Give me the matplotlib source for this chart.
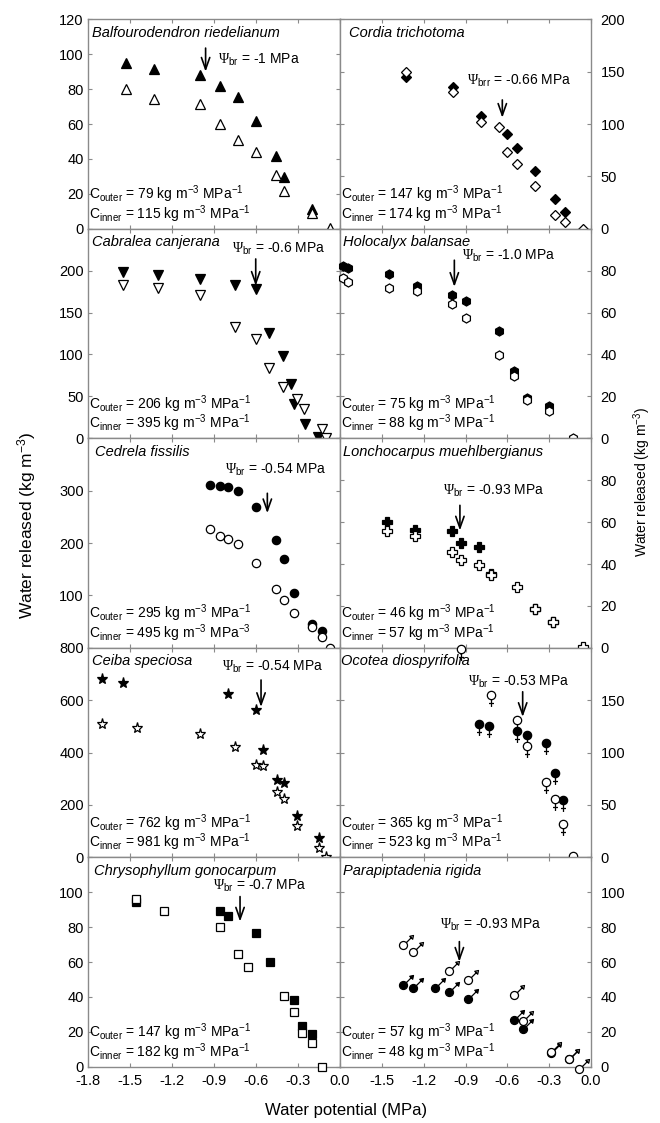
import numpy as np
import matplotlib
matplotlib.use("Agg")
import matplotlib.pyplot as plt
from matplotlib.path import Path

plt.rcParams['font.family'] = ['Liberation Sans', 'DejaVu Sans']
plt.rcParams['mathtext.fontset'] = 'custom'
plt.rcParams['mathtext.rm'] = 'Liberation Sans'
plt.rcParams['mathtext.it'] = 'Liberation Sans:italic'
plt.rcParams['mathtext.bf'] = 'Liberation Sans:bold'
plt.rcParams['mathtext.tt'] = 'Liberation Serif'
plt.rcParams['axes.unicode_minus'] = False

# ---------------- data ----------------
balf_psi_outer = [-1.53, -1.33, -1.00, -0.86, -0.73, -0.60, -0.46, -0.40, -0.20]
balf_w_outer = [95, 91.5, 88, 81.7, 75.6, 61.6, 41.7, 29.6, 11.6]
balf_psi_inner = [-1.53, -1.33, -1.00, -0.86, -0.73, -0.60, -0.46, -0.40, -0.20, -0.07]
balf_w_inner = [80.2, 74.6, 71.4, 59.9, 51.1, 44, 30.6, 21.6, 9.2, 0.5]

cord_psi_outer = [-1.33, -0.99, -0.79, -0.60, -0.53, -0.40, -0.26, -0.19]
cord_w_outer = [144.7, 135, 107.3, 90.4, 77, 55.6, 28.5, 16.3]
cord_psi_inner = [-1.33, -0.99, -0.79, -0.66, -0.60, -0.53, -0.40, -0.26, -0.19, -0.06]
cord_w_inner = [149.9, 130.7, 102, 97.2, 73.2, 62, 40.9, 13.1, 6.7, 0]

cabr_psi_outer = [-1.55, -1.30, -1.00, -0.75, -0.60, -0.51, -0.41, -0.35, -0.33, -0.25, -0.155]
cabr_w_outer = [198, 195, 190, 183.3, 178, 125.5, 98.4, 65, 40.6, 16.7, 1]
cabr_psi_inner = [-1.55, -1.30, -1.00, -0.75, -0.60, -0.51, -0.41, -0.31, -0.26, -0.13, -0.10]
cabr_w_inner = [183, 179.3, 171, 133, 119, 84.4, 61, 46.6, 35.4, 10.8, 0]

holo_psi_outer = [-1.775, -1.745, -1.45, -1.25, -1.00, -0.90, -0.66, -0.55, -0.46, -0.30]
holo_w_outer = [82.3, 81.1, 78.2, 72.8, 68.3, 65.4, 51, 32.3, 19, 15.5]
holo_psi_inner = [-1.775, -1.745, -1.45, -1.25, -1.00, -0.90, -0.66, -0.55, -0.46, -0.30, -0.13]
holo_w_inner = [76.3, 74.7, 71.8, 70.4, 64, 57.4, 39.8, 29.6, 18.4, 13.1, 0]

cedr_psi_outer = [-0.93, -0.86, -0.80, -0.73, -0.60, -0.46, -0.40, -0.33, -0.20, -0.13]
cedr_w_outer = [311, 309, 306.5, 299.4, 268, 205.5, 168.6, 104.6, 46, 31.8]
cedr_psi_inner = [-0.93, -0.86, -0.80, -0.73, -0.60, -0.46, -0.40, -0.33, -0.20, -0.13, -0.07]
cedr_w_inner = [226.6, 213.8, 207.5, 197.3, 162, 112.3, 92, 66.3, 39.5, 20.3, 0]

lonc_psi_outer = [-1.465, -1.26, -1.00, -0.93, -0.80, -0.72, -0.40, -0.27]
lonc_w_outer = [60, 56.4, 55.6, 50, 48.1, 35.4, 18.3, 12.4]
lonc_psi_inner = [-1.465, -1.26, -1.00, -0.93, -0.80, -0.72, -0.53, -0.40, -0.27, -0.06]
lonc_w_inner = [55.8, 53.4, 45.7, 41.7, 39.4, 34.9, 29, 18.3, 12.4, 0.3]

ceib_psi_outer = [-1.70, -1.55, -0.80, -0.60, -0.55, -0.45, -0.40, -0.305, -0.15]
ceib_w_outer = [680, 666, 622, 562, 411, 296, 285, 157, 74]
ceib_psi_inner = [-1.70, -1.45, -1.00, -0.75, -0.60, -0.55, -0.45, -0.40, -0.305, -0.15, -0.10]
ceib_w_inner = [508, 494, 470, 421, 351, 348, 249, 221, 121, 34, 0]

ocot_psi_outer = [-0.80, -0.73, -0.53, -0.46, -0.32, -0.26, -0.20]
ocot_w_outer = [126.9, 125.3, 120.4, 117.2, 109.2, 80.3, 54.6]
ocot_psi_inner = [-0.93, -0.72, -0.53, -0.46, -0.32, -0.26, -0.20, -0.13]
ocot_w_inner = [199, 154.8, 131.4, 106, 72, 55.9, 32.2, 1.3]

chry_psi_outer = [-1.46, -0.86, -0.80, -0.60, -0.50, -0.33, -0.27, -0.20]
chry_w_outer = [94.5, 89.3, 86.5, 76.5, 60.2, 38.3, 23.5, 18.8]
chry_psi_inner = [-1.46, -1.26, -0.86, -0.73, -0.66, -0.40, -0.33, -0.27, -0.20, -0.13]
chry_w_inner = [96.4, 89.3, 80.3, 64.5, 57.4, 40.6, 31.6, 19.1, 13.8, 0]

para_psi_outer = [-1.35, -1.28, -1.12, -1.02, -0.88, -0.55, -0.49, -0.29, -0.155]
para_w_outer = [46.9, 45.3, 45, 42.7, 38.7, 26.8, 21.4, 7.7, 4.2]
para_psi_inner = [-1.35, -1.28, -1.02, -0.88, -0.55, -0.485, -0.29, -0.155, -0.086]
para_w_inner = [69.8, 66, 54.9, 49.7, 41.1, 26.4, 8.6, 4.6, -1]

species = ["Balfourodendron riedelianum", "Cordia trichotoma", "Cabralea canjerana",
           "Holocalyx balansae", "Cedrela fissilis", "Lonchocarpus muehlbergianus",
           "Ceiba speciosa", "Ocotea diospyrifolia", "Chrysophyllum gonocarpum",
           "Parapiptadenia rigida"]
psi_br = ["-1", "-0.66", "-0.6", "-1.0", "-0.54", "-0.93", "-0.54", "-0.53", "-0.7", "-0.93"]
psi_sub = ["br", "brr", "br", "br", "br", "br", "br", "br", "br", "br"]
c_outer = [79, 147, 206, 75, 295, 46, 762, 365, 147, 57]
c_inner = [115, 174, 395, 88, 495, 57, 981, 523, 182, 48]
c_inner_exp = ["-1", "-1", "-1", "-1", "-3", "-1", "-1", "-1", "-1", "-1"]
y_max = [120, 200, 250, 100, 400, 100, 800, 200, 120, 120]
y_step = [20, 50, 50, 20, 100, 20, 200, 50, 20, 20]
x_ticks = [-1.8, -1.5, -1.2, -0.9, -0.6, -0.3, 0.0]

# ---------------- custom markers ----------------
venus = Path.make_compound_path(
    Path.circle((0, 0), 0.5),
    Path([(0, -0.5), (0, -1.375)], [Path.MOVETO, Path.LINETO]),
    Path([(-0.3, -0.96), (0.3, -0.96)], [Path.MOVETO, Path.LINETO]))
mars = Path.make_compound_path(
    Path.circle((0, 0), 0.5),
    Path([(0.354, 0.354), (1.05, 1.05)], [Path.MOVETO, Path.LINETO]),
    Path([(1.25, 1.25), (0.78, 1.15), (1.15, 0.78), (1.25, 1.25)],
         [Path.MOVETO, Path.LINETO, Path.LINETO, Path.CLOSEPOLY]))

panels = [
    (balf_psi_outer, balf_w_outer, balf_psi_inner, balf_w_inner, '^', 6.5),
    (cord_psi_outer, cord_w_outer, cord_psi_inner, cord_w_inner, 'D', 5.0),
    (cabr_psi_outer, cabr_w_outer, cabr_psi_inner, cabr_w_inner, 'v', 6.5),
    (holo_psi_outer, holo_w_outer, holo_psi_inner, holo_w_inner, 'h', 6.5),
    (cedr_psi_outer, cedr_w_outer, cedr_psi_inner, cedr_w_inner, 'o', 6.0),
    (lonc_psi_outer, lonc_w_outer, lonc_psi_inner, lonc_w_inner, 'P', 7.0),
    (ceib_psi_outer, ceib_w_outer, ceib_psi_inner, ceib_w_inner, '*', 8.0),
    (ocot_psi_outer, ocot_w_outer, ocot_psi_inner, ocot_w_inner, venus, 16.5),
    (chry_psi_outer, chry_w_outer, chry_psi_inner, chry_w_inner, 's', 5.5),
    (para_psi_outer, para_w_outer, para_psi_inner, para_w_inner, mars, 14.4),
]

# arrow (x, y start, y end) and text (x, y) in data coordinates
arrows = [(-0.96, 103.5, 90), (-0.636, 123, 106), (-0.602, 214, 182), (-0.98, 85, 72.3),
          (-0.519, 295, 257), (-0.94, 68, 56), (-0.564, 677, 574), (-0.49, 158, 134),
          (-0.714, 97.5, 83.2), (-0.944, 71.7, 60.2)]
psi_text_pos = [(-0.87, 97), (-0.89, 141), (-0.774, 226), (-0.927, 87), (-0.822, 340),
                (-1.059, 75), (-0.84, 727), (-0.88, 168), (-0.905, 103.7), (-1.083, 81.3)]
name_x_px = [4, 9, 4, 3, 7, 3, 4, 1, 6, 3]

W, H = 660, 1123
fig = plt.figure(figsize=(W / 100, H / 100), dpi=100)

row_tops = [19.3, 228.8, 438.3, 647.8, 857.3]
row_h = 209.5
col_left = [88, 340]
col_w = [252, 251]
spine_c = '#8a8a8a'

for i, (xo, yo, xi, yi, mk, ms) in enumerate(panels):
    r, c = divmod(i, 2)
    ax = fig.add_axes([col_left[c] / W, 1 - (row_tops[r] + row_h) / H, col_w[c] / W, row_h / H])
    ax.set_xlim(-1.8, 0.0)
    ax.set_ylim(0, y_max[i])
    ax.plot(xo, yo, linestyle='none', marker=mk, ms=ms, mfc='black', mec='black',
            mew=0.9, clip_on=False, zorder=3)
    ax.plot(xi, yi, linestyle='none', marker=mk, ms=ms, mfc='white', mec='black',
            mew=0.9, clip_on=False, zorder=4)
    for s in ax.spines.values():
        s.set_color(spine_c)
        s.set_linewidth(1.0)
    yt = np.arange(0, y_max[i] + 0.1, y_step[i])
    ax.set_yticks(yt)
    labs = []
    for v in yt:
        hide = False
        if v == y_max[i] and i not in (0, 1, 6):
            hide = True
        if i == 4 and v == 0:
            hide = True
        labs.append('' if hide else '%d' % v)
    ax.set_yticklabels(labs)
    ax.set_xticks(x_ticks)
    if r == 4:
        xl = ['%.1f' % v for v in x_ticks]
        if c == 1:
            xl[0] = ''
        ax.set_xticklabels(xl)
    else:
        ax.set_xticklabels([])
    ax.tick_params(axis='both', direction='in', length=3, width=0.8, color=spine_c,
                   top=True, right=True, bottom=True, left=True, labelsize=10.5)
    ax.tick_params(axis='x', pad=5.5)
    if c == 0:
        ax.tick_params(axis='y', labelleft=True, labelright=False, pad=3)
    else:
        ax.tick_params(axis='y', labelleft=False, labelright=True, pad=7)

    ax.text(name_x_px[i] / col_w[c], 1 - 17.5 / row_h, species[i], transform=ax.transAxes,
            fontsize=10.5, style='italic', ha='left', va='baseline')
    ax.text(0.005, 0.14, r"C$_{\mathrm{outer}}$ = %d kg m$^{\mathrm{-3}}$ MPa$^{\mathrm{-1}}$" % c_outer[i],
            transform=ax.transAxes, fontsize=10, ha='left', va='baseline')
    ax.text(0.005, 0.047, r"C$_{\mathrm{inner}}$ = %d kg m$^{\mathrm{-3}}$ MPa$^{\mathrm{%s}}$" % (c_inner[i], c_inner_exp[i]),
            transform=ax.transAxes, fontsize=10, ha='left', va='baseline')
    tx, ty = psi_text_pos[i]
    ax.text(tx, ty, r"$\mathtt{\Psi}_{\mathrm{%s}}$ = %s MPa" % (psi_sub[i], psi_br[i]),
            fontsize=10, ha='left', va='center')
    axx, ay0, ay1 = arrows[i]
    ax.annotate('', xy=(axx, ay1), xytext=(axx, ay0),
                arrowprops=dict(arrowstyle='->,head_length=0.7,head_width=0.25',
                                lw=1.2, color='black', shrinkA=0, shrinkB=0,
                                mutation_scale=12))

fig.text(27 / W, 1 - 525 / H, 'Water released (kg m$^{\\mathrm{-3}}$)', rotation=90,
         fontsize=12.5, ha='center', va='center')
fig.text(642 / W, 1 - 482 / H, 'Water released (kg m$^{\\mathrm{-3}}$)', rotation=90,
         fontsize=10, ha='center', va='center')
fig.text(346 / W, 1 - 1111 / H, 'Water potential (MPa)', fontsize=12, ha='center', va='center')

fig.savefig('out.png', dpi=100)
